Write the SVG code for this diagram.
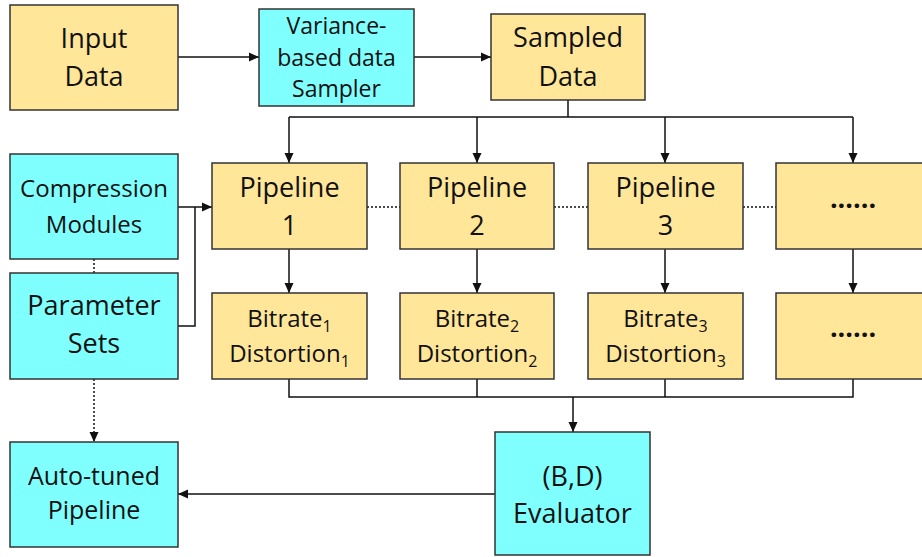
<svg xmlns="http://www.w3.org/2000/svg" width="922" height="557" viewBox="0 0 922 557">
<defs>
<marker id="ah" viewBox="0 0 10 10" refX="10" refY="5" markerWidth="10" markerHeight="10" markerUnits="userSpaceOnUse" orient="auto"><path d="M0,0.5 L10,5 L0,9.5 Z" fill="#111"/></marker>
<style>
.o{fill:#FFE699;stroke:#333;stroke-width:1.5}
.c{fill:#80FFFF;stroke:#333;stroke-width:1.5}
text{font-family:"Open Sans","Noto Sans",sans-serif;fill:#111;text-anchor:middle}
.l{font-size:27px}
.m{font-size:24px}
.a{font-size:25px}
.s{font-size:23px}
.b{font-size:24px}
.sub{font-size:16px}
.ln{fill:none;stroke:#111;stroke-width:1.5}
.dt{fill:none;stroke:#111;stroke-width:1.5;stroke-dasharray:2,2}
.dots{font-size:27px;font-weight:bold}
</style>
</defs>
<g id="connectors">
<path class="ln" d="M178,57 H259" marker-end="url(#ah)"/>
<path class="ln" d="M414,57 H491" marker-end="url(#ah)"/>
<path class="ln" d="M568,100 V117 M289,117 H853"/>
<path class="ln" d="M289,117 V163" marker-end="url(#ah)"/>
<path class="ln" d="M477,117 V163" marker-end="url(#ah)"/>
<path class="ln" d="M665,117 V163" marker-end="url(#ah)"/>
<path class="ln" d="M853,117 V163" marker-end="url(#ah)"/>
<path class="ln" d="M289,249 V293" marker-end="url(#ah)"/>
<path class="ln" d="M477,249 V293" marker-end="url(#ah)"/>
<path class="ln" d="M665,249 V293" marker-end="url(#ah)"/>
<path class="ln" d="M853,249 V293" marker-end="url(#ah)"/>
<path class="dt" d="M367,207 H400 M554,207 H588 M743,207 H776"/>
<path class="ln" d="M178,207 H212" marker-end="url(#ah)"/>
<path class="ln" d="M178,326 H195 V207"/>
<path class="dt" d="M94,259 V273"/>
<path class="dt" d="M94,379 V442" marker-end="url(#ah)"/>
<path class="ln" d="M289,379 V397 H853 V379 M477,379 V397 M665,379 V397"/>
<path class="ln" d="M573,397 V432" marker-end="url(#ah)"/>
<path class="ln" d="M495,494 H178" marker-end="url(#ah)"/>
</g>
<g id="input-data"><rect class="o" x="10" y="5" width="168" height="105"/><text class="l" x="94" y="48">Input</text><text class="l" x="94" y="86">Data</text></g>
<g id="sampler"><rect class="c" x="259" y="9" width="155" height="97"/><text class="s" x="336.5" y="34">Variance-</text><text class="s" x="336.5" y="66">based data</text><text class="s" x="336.5" y="97">Sampler</text></g>
<g id="sampled-data"><rect class="o" x="491" y="14" width="154" height="86"/><text class="l" x="568" y="47">Sampled</text><text class="l" x="568" y="86">Data</text></g>
<g id="compression-modules"><rect class="c" x="10" y="154" width="168" height="105"/><text class="m" x="94" y="197">Compression</text><text class="m" x="94" y="233">Modules</text></g>
<g id="parameter-sets"><rect class="c" x="10" y="273" width="168" height="106"/><text class="l" x="94" y="315">Parameter</text><text class="l" x="94" y="353">Sets</text></g>
<g id="pipeline-1"><rect class="o" x="212" y="163" width="155" height="86"/><text class="l" x="289.5" y="197">Pipeline</text><text class="l" x="289.5" y="235">1</text></g>
<g id="pipeline-2"><rect class="o" x="400" y="163" width="154" height="86"/><text class="l" x="477" y="197">Pipeline</text><text class="l" x="477" y="235">2</text></g>
<g id="pipeline-3"><rect class="o" x="588" y="163" width="155" height="86"/><text class="l" x="665.5" y="197">Pipeline</text><text class="l" x="665.5" y="235">3</text></g>
<g id="pipeline-n"><rect class="o" x="776" y="163" width="155" height="86"/><text class="dots" x="853" y="208">......</text></g>
<g id="result-1"><rect class="o" x="212" y="293" width="155" height="86"/><text class="b" x="289.5" y="327">Bitrate<tspan class="sub" dy="5">1</tspan></text><text class="b" x="289.5" y="362">Distortion<tspan class="sub" dy="5">1</tspan></text></g>
<g id="result-2"><rect class="o" x="400" y="293" width="154" height="86"/><text class="b" x="477" y="327">Bitrate<tspan class="sub" dy="5">2</tspan></text><text class="b" x="477" y="362">Distortion<tspan class="sub" dy="5">2</tspan></text></g>
<g id="result-3"><rect class="o" x="588" y="293" width="155" height="86"/><text class="b" x="665.5" y="327">Bitrate<tspan class="sub" dy="5">3</tspan></text><text class="b" x="665.5" y="362">Distortion<tspan class="sub" dy="5">3</tspan></text></g>
<g id="result-n"><rect class="o" x="776" y="293" width="155" height="86"/><text class="dots" x="853" y="337">......</text></g>
<g id="evaluator"><rect class="c" x="495" y="432" width="155" height="123"/><text class="l" x="572.5" y="486">(B,D)</text><text class="l" x="572.5" y="523">Evaluator</text></g>
<g id="auto-tuned"><rect class="c" x="10" y="442" width="168" height="105"/><text class="a" x="94" y="485">Auto-tuned</text><text class="a" x="94" y="519">Pipeline</text></g>
</svg>
